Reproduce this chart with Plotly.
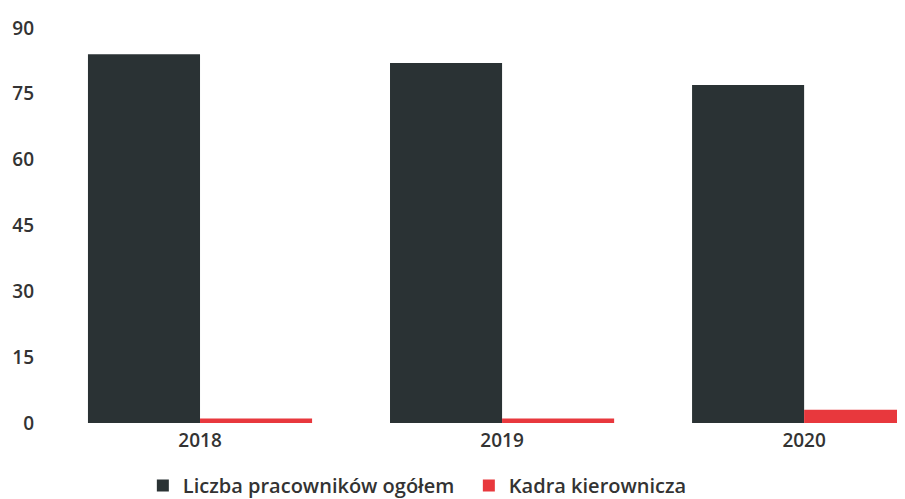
import plotly.graph_objects as go

years = ["2018", "2019", "2020"]
ogolem = [84, 82, 77]
kadra = [1, 1, 3]
yticks = [0, 15, 30, 45, 60, 75, 90]

xpos = list(range(len(years)))

fig = go.Figure()
fig.add_trace(go.Bar(x=xpos, y=ogolem, name="Liczba pracowników ogółem",
                     marker=dict(color="#2a3234", line=dict(width=0)), offsetgroup="a"))
fig.add_trace(go.Bar(x=xpos, y=kadra, name="Kadra kierownicza",
                     marker=dict(color="#e8383d", line=dict(width=0)), offsetgroup="b"))

tf = dict(family="Open Sans", size=19, color="#333333", weight=600)

fig.update_layout(
    width=905, height=499,
    margin=dict(l=41, r=8, t=20, b=84, autoexpand=False),
    paper_bgcolor="white", plot_bgcolor="white",
    barmode="group", bargap=0.258, bargroupgap=0,
    font=dict(family="Open Sans", color="#333333", size=19),
    showlegend=True,
    legend=dict(orientation="h", xref="container", x=0.149, xanchor="left",
                yref="container", y=0.043, yanchor="middle",
                font=dict(family="Open Sans", size=20, color="#333333", weight=600),
                itemwidth=30, traceorder="normal", entrywidth=281, entrywidthmode="pixels"),
    xaxis=dict(range=[-0.5, 2.334], tickmode="array", tickvals=xpos, ticktext=years,
               showgrid=False, zeroline=False, showline=False, ticks="",
               ticklabelstandoff=4, automargin=False, tickfont=tf),
    yaxis=dict(range=[0, 90], tickmode="array", tickvals=yticks,
               showgrid=False, zeroline=False, showline=False, ticks="",
               ticklabelstandoff=14, automargin=False, tickfont=tf),
)

fig.write_html("out.html")
